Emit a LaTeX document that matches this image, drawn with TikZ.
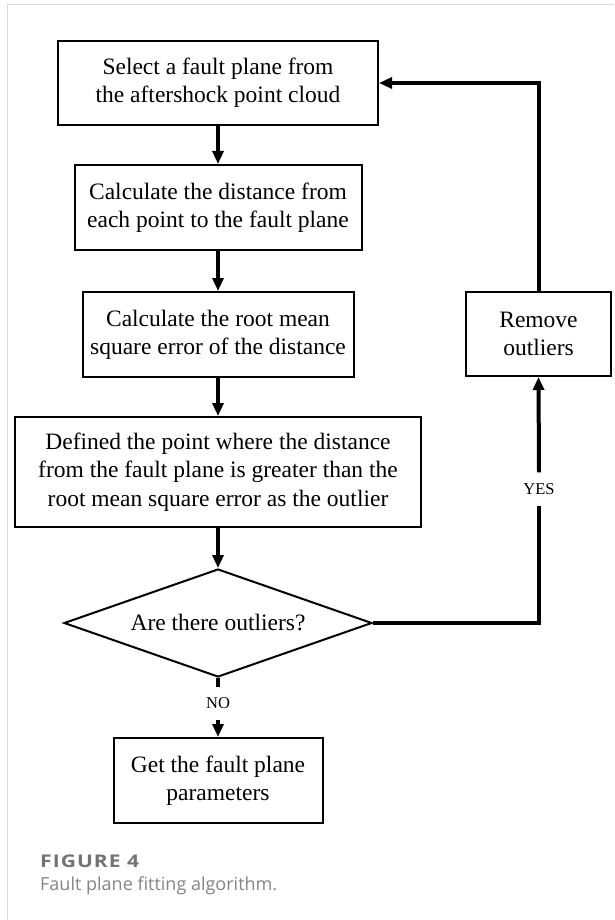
\documentclass[tikz,border=0pt]{standalone}
\usepackage{fontspec}
\setmainfont{Liberation Serif}
\newfontfamily\capfont{Open Sans}
\newfontfamily\capfontwide{Open Sans}[LetterSpace=5]
\usetikzlibrary{arrows.meta,shapes.geometric}
\begin{document}
\begin{tikzpicture}[x=1pt,y=-1pt,
  box/.style={draw,line width=2pt,align=center,inner sep=0pt,font=\fontsize{23.5}{28.3}\selectfont},
  dbox/.style={draw,shape=diamond,line width=2pt,inner sep=0pt,font=\fontsize{23.5}{28.3}\selectfont},
  flow/.style={line width=4pt,-{Triangle[length=13pt,width=11pt]}},
  plainline/.style={line width=4pt},
  lbl/.style={font=\fontsize{16.5}{18}\selectfont,inner sep=0pt,minimum height=33pt},
  captext/.style={anchor=base west,inner sep=0pt}]
\useasboundingbox (0,0) rectangle (614,920);
\fill[white] (0,0) rectangle (614,920);
\draw[black!15,line width=1pt] (7,920) -- (7,5) -- (614,5);
\node[box,minimum width=320pt,minimum height=84pt] (b1) at (218,83) {Select a fault plane from\\the aftershock point cloud};
\node[box,minimum width=287pt,minimum height=85pt] (b2) at (218,207.5) {Calculate the distance from\\each point to the fault plane};
\node[box,minimum width=271pt,minimum height=85pt] (b3) at (218,334.5) {Calculate the root mean\\square error of the distance};
\node[box,minimum width=406pt,minimum height=110pt] (b4) at (218,472) {Defined the point where the distance\\from the fault plane is greater than the\\root mean square error as the outlier};
\node[dbox,minimum width=308pt,minimum height=108pt] (d) at (218,623) {\makebox[0pt]{Are there outliers?}};
\node[box,minimum width=209pt,minimum height=85pt] (b5) at (218,780.5) {Get the fault plane\\parameters};
\node[box,minimum width=145pt,minimum height=84pt] (r) at (538.5,334) {Remove\\outliers};
\node[lbl] (yes) at (539,489) {YES};
\node[lbl] (no) at (218,703.5) {NO};
\draw[flow] (b1) -- (b2);
\draw[flow] (b2) -- (b3);
\draw[flow] (b3) -- (b4);
\draw[flow] (b4.south) -- (d.north);
\draw[plainline] (d.south) -- (no.north);
\draw[flow] (no.south) -- (b5.north);
\draw[plainline] (d.east) -| (yes.south);
\draw[flow] (yes.north) -- (r.south);
\draw[flow] (r.north) |- (b1.east);
\node[captext,font=\capfontwide\bfseries\fontsize{17.5}{22}\selectfont,text=black!55] (fig) at (40,867) {\scalebox{1.2}[1]{FIGURE 4}};
\node[captext,font=\capfont\fontsize{18}{22}\selectfont,text=black!48] (capt) at (40,890) {Fault plane fitting algorithm.};
\end{tikzpicture}
\end{document}
